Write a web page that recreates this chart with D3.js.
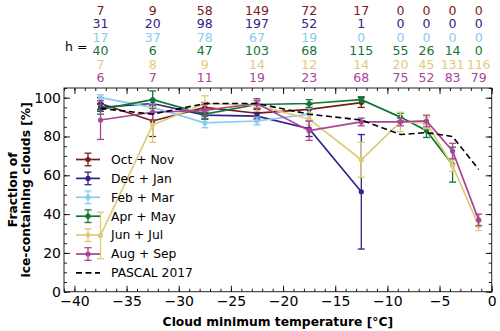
<!DOCTYPE html>
<html><head><meta charset="utf-8">
<script src="https://cdn.jsdelivr.net/npm/d3@7"></script>
<style>
html,body{margin:0;padding:0;background:#fff;}
svg{display:block;font-family:"DejaVu Sans",sans-serif;}
</style></head>
<body><svg id="c" width="500" height="331"></svg>
<script>
// ---- data ----
const temps = [-37.5, -32.5, -27.5, -22.5, -17.5, -12.5, -8.75, -6.25, -3.75, -1.25];
const seasons = ["Oct + Nov", "Dec + Jan", "Feb + Mar", "Apr + May", "Jun + Jul", "Aug + Sep"];
const colors = ["#781c1c", "#332288", "#88ccee", "#117733", "#ddcc77", "#aa4499"];
const countsOctNov = [7, 9, 58, 149, 72, 17, 0, 0, 0, 0];
const countsDecJan = [31, 20, 98, 197, 52, 1, 0, 0, 0, 0];
const countsFebMar = [17, 37, 78, 67, 19, 0, 0, 0, 0, 0];
const countsAprMay = [40, 6, 47, 103, 68, 115, 55, 26, 14, 0];
const countsJunJul = [7, 8, 9, 14, 12, 14, 20, 45, 131, 116];
const countsAugSep = [6, 7, 11, 19, 23, 68, 75, 52, 83, 79];
const valOctNov = [97, 88, 95, 92, 94, 97.5, null, null, null, null];
const errOctNov = [3, 8, 2.5, 2, 2.5, 2.5, null, null, null, null];
const valDecJan = [95, 97, 91, 90.5, 84, 51.5, null, null, null, null];
const errDecJan = [2, 2, 2, 1.5, 4, 29.5, null, null, null, null];
const valFebMar = [100, 95, 87, 88, 91.5, null, null, null, null, null];
const errFebMar = [1.5, 2, 2.5, 2, 3, null, null, null, null, null];
const valAprMay = [94, 99, 91.5, 96.5, 97, 99, 90, 83, 65.5, null];
const errAprMay = [2.5, 4.5, 2.5, 2, 2, 1.5, 2, 3.5, 9, null];
const valJunJul = [29, 86, 97, 96, 89, 68, 87.5, 87, 65, 34];
const errJunJul = [12, 9, 4, 3, 3, 9, 5, 3, 3, 2.5];
const valAugSep = [88.5, 92.5, 93.5, 97, 83, 87.5, 87.5, 88, 72.5, 37];
const errAugSep = [10, 4, 3, 2.5, 5, 2, 2, 3, 4, 3];
const valPascal = [94.5, 91.5, 97, 97, 91.5, 88.5, 81, 82, 80, 63];
const xTicks = [-40, -35, -30, -25, -20, -15, -10, -5, 0];
const yTicks = [0, 20, 40, 60, 80, 100];

const counts = [countsOctNov, countsDecJan, countsFebMar, countsAprMay, countsJunJul, countsAugSep];
const vals = [valOctNov, valDecJan, valFebMar, valAprMay, valJunJul, valAugSep];
const errs = [errOctNov, errDecJan, errFebMar, errAprMay, errJunJul, errAugSep];

// ---- layout ----
const L = 64, R = 491.7, T = 88, B = 291.7;
const svg = d3.select("#c");
const x = d3.scaleLinear().domain([-41, 0]).range([L, R]);
const y = d3.scaleLinear().domain([0, 105]).range([B, T]);

// axes
const fmt = d3.format("d");
function styleAxis(g){ g.select(".domain").remove(); g.selectAll("line").attr("stroke","#000").attr("stroke-width",0.9); g.selectAll("text").attr("fill","#000"); }
svg.append("g").attr("transform",`translate(0,${B})`)
  .call(d3.axisBottom(x).tickValues(xTicks).tickFormat(fmt).tickSizeInner(-6).tickSizeOuter(0).tickPadding(4))
  .call(styleAxis).attr("font-size",14).attr("font-family","DejaVu Sans");
svg.append("g").attr("transform",`translate(0,${B})`)
  .call(d3.axisBottom(x).tickValues(d3.range(-41,1,1)).tickFormat("").tickSizeInner(-3).tickSizeOuter(0))
  .call(styleAxis);
svg.append("g").attr("transform",`translate(0,${T})`)
  .call(d3.axisTop(x).tickValues(xTicks).tickFormat("").tickSizeInner(-6).tickSizeOuter(0)).call(styleAxis);
svg.append("g").attr("transform",`translate(0,${T})`)
  .call(d3.axisTop(x).tickValues(d3.range(-41,1,1)).tickFormat("").tickSizeInner(-3).tickSizeOuter(0)).call(styleAxis);
svg.append("g").attr("transform",`translate(${L},0)`)
  .call(d3.axisLeft(y).tickValues(yTicks).tickFormat(fmt).tickSizeInner(-6).tickSizeOuter(0).tickPadding(3))
  .call(styleAxis).attr("font-size",14).attr("font-family","DejaVu Sans");
svg.append("g").attr("transform",`translate(${L},0)`)
  .call(d3.axisLeft(y).tickValues(d3.range(0,106,5)).tickFormat("").tickSizeInner(-3).tickSizeOuter(0)).call(styleAxis);
svg.append("g").attr("transform",`translate(${R},0)`)
  .call(d3.axisRight(y).tickValues(yTicks).tickFormat("").tickSizeInner(-6).tickSizeOuter(0)).call(styleAxis);
svg.append("g").attr("transform",`translate(${R},0)`)
  .call(d3.axisRight(y).tickValues(d3.range(0,106,5)).tickFormat("").tickSizeInner(-3).tickSizeOuter(0)).call(styleAxis);

// series
const line = d3.line().defined(d => d.v != null).x(d => x(d.t)).y(d => y(d.v));
const capW = 3.5;
seasons.forEach((s, i) => {
  const pts = temps.map((t, j) => ({t, v: vals[i][j], e: errs[i][j]}));
  const g = svg.append("g");
  const ok = pts.filter(d => d.v != null);
  g.selectAll("line.eb").data(ok).join("line").attr("x1", d => x(d.t)).attr("x2", d => x(d.t))
    .attr("y1", d => y(d.v - d.e)).attr("y2", d => y(d.v + d.e)).attr("stroke", colors[i]).attr("stroke-width", 1.3);
  ok.forEach(d => {
    [d.v - d.e, d.v + d.e].forEach(vv => {
      g.append("line").attr("x1", x(d.t) - capW).attr("x2", x(d.t) + capW).attr("y1", y(vv)).attr("y2", y(vv))
        .attr("stroke", colors[i]).attr("stroke-width", 1.3);
    });
  });
  g.append("path").datum(pts).attr("d", line).attr("fill", "none").attr("stroke", colors[i]).attr("stroke-width", 1.7);
  g.selectAll("circle").data(ok).join("circle").attr("cx", d => x(d.t)).attr("cy", d => y(d.v)).attr("r", 2.6).attr("fill", colors[i]);
});
// PASCAL
svg.append("path").datum(temps.map((t, j) => ({t, v: valPascal[j]}))).attr("d", line)
  .attr("fill", "none").attr("stroke", "#000").attr("stroke-width", 1.6).attr("stroke-dasharray", "6,3.5");

// frame
svg.append("rect").attr("x", L).attr("y", T).attr("width", R - L).attr("height", B - T)
  .attr("fill", "none").attr("stroke", "#222").attr("stroke-width", 1);

// counts
const rowY = [14.5, 28, 41.5, 55.2, 68.7, 82.2];
counts.forEach((c, i) => {
  svg.append("g").selectAll("text").data(c).join("text")
    .attr("x", (d, j) => x(temps[j])).attr("y", rowY[i]).attr("text-anchor", "middle")
    .attr("font-size", 12.5).attr("fill", colors[i]).text(d => d);
});
svg.append("text").attr("x", 65).attr("y", 50.5).attr("font-size", 12.5).attr("fill", "#000").text("h =");

// legend
const lg = svg.append("g");
const legY0 = 159.5, legDy = 18.9;
seasons.forEach((s, i) => {
  const yy = legY0 + i * legDy;
  lg.append("line").attr("x1", 76).attr("x2", 100).attr("y1", yy).attr("y2", yy).attr("stroke", colors[i]).attr("stroke-width", 1.7);
  lg.append("line").attr("x1", 88).attr("x2", 88).attr("y1", yy - 6.3).attr("y2", yy + 6.3).attr("stroke", colors[i]).attr("stroke-width", 1.3);
  [yy - 6.3, yy + 6.3].forEach(cy => lg.append("line").attr("x1", 88 - capW).attr("x2", 88 + capW).attr("y1", cy).attr("y2", cy).attr("stroke", colors[i]).attr("stroke-width", 1.3));
  lg.append("circle").attr("cx", 88).attr("cy", yy).attr("r", 2.6).attr("fill", colors[i]);
  lg.append("text").attr("x", 111).attr("y", yy).attr("dy", "0.35em").attr("font-size", 12.3).attr("fill", "#000").text(s);
});
{
  const yy = legY0 + 6 * legDy;
  lg.append("line").attr("x1", 76).attr("x2", 100).attr("y1", yy).attr("y2", yy).attr("stroke", "#000").attr("stroke-width", 1.6).attr("stroke-dasharray", "6,3.5");
  lg.append("text").attr("x", 111).attr("y", yy).attr("dy", "0.35em").attr("font-size", 12.3).attr("fill", "#000").text("PASCAL 2017");
}

// axis labels
svg.append("text").attr("x", (L + R) / 2).attr("y", 325.5).attr("text-anchor", "middle")
  .attr("font-size", 12.3).attr("font-weight", "bold").text("Cloud minimum temperature [°C]");
const yl = svg.append("text").attr("transform", `translate(0,${(T + B) / 2}) rotate(-90)`)
  .attr("text-anchor", "middle").attr("font-size", 12.3).attr("font-weight", "bold");
yl.append("tspan").attr("x", 0).attr("y", 17).text("Fraction of");
yl.append("tspan").attr("x", 0).attr("y", 29.5).text("ice-containing clouds [%]");
</script></body></html>
